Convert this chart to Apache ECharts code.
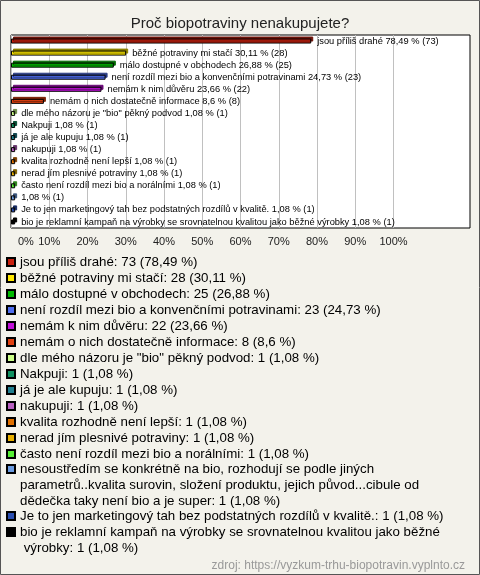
<!DOCTYPE html>
<html>
<head>
<meta charset="utf-8">
<script src="https://cdn.jsdelivr.net/npm/echarts@6/dist/echarts.min.js"></script>
<style>html,body{margin:0;padding:0;background:#f3f2eb}#chart{width:480px;height:575px}</style>
</head>
<body>
<div id="chart"></div>
<script>
const categories = [
  'jsou příliš drahé',
  'běžné potraviny mi stačí',
  'málo dostupné v obchodech',
  'není rozdíl mezi bio a konvenčními potravinami',
  'nemám k nim důvěru',
  'nemám o nich dostatečně informace',
  'dle mého názoru je "bio" pěkný podvod',
  'Nakpuji',
  'já je ale kupuju',
  'nakupuji',
  'kvalita rozhodně není lepší',
  'nerad jím plesnivé potraviny',
  'často není rozdíl mezi bio a norálními',
  'nesoustředím se konkrétně na bio, rozhodují se podle jiných parametrů..kvalita surovin, složení produktu, jejich původ...cibule od dědečka taky není bio a je super',
  'Je to jen marketingový tah bez podstatných rozdílů v kvalitě.',
  'bio je reklamní kampaň na výrobky se srovnatelnou kvalitou jako běžné výrobky'
];
// labels shown next to the bars inside the plot (the long one is omitted there)
const barLabels = [
  'jsou příliš drahé',
  'běžné potraviny mi stačí',
  'málo dostupné v obchodech',
  'není rozdíl mezi bio a konvenčními potravinami',
  'nemám k nim důvěru',
  'nemám o nich dostatečně informace',
  'dle mého názoru je "bio" pěkný podvod',
  'Nakpuji',
  'já je ale kupuju',
  'nakupuji',
  'kvalita rozhodně není lepší',
  'nerad jím plesnivé potraviny',
  'často není rozdíl mezi bio a norálními',
  '',
  'Je to jen marketingový tah bez podstatných rozdílů v kvalitě.',
  'bio je reklamní kampaň na výrobky se srovnatelnou kvalitou jako běžné výrobky'
];
const counts = [73, 28, 25, 23, 22, 8, 1, 1, 1, 1, 1, 1, 1, 1, 1, 1];
const percents = [78.49, 30.11, 26.88, 24.73, 23.66, 8.6, 1.08, 1.08, 1.08, 1.08, 1.08, 1.08, 1.08, 1.08, 1.08, 1.08];
const tickValues = [0, 10, 20, 30, 40, 50, 60, 70, 80, 90, 100];

const palette = ['#c8200e', '#ffe800', '#00bb00', '#4f6ef0', '#c010d8', '#e04010', '#ccff88', '#109060',
  '#207f90', '#b860c0', '#e07000', '#e8b000', '#55ee33', '#6b9be0', '#2a4eb0', '#000000'];

function darker(hex) {
  const n = parseInt(hex.slice(1), 16);
  const r = Math.round(((n >> 16) & 255) * 0.55), g = Math.round(((n >> 8) & 255) * 0.55), b = Math.round((n & 255) * 0.55);
  return 'rgb(' + r + ',' + g + ',' + b + ')';
}
function fmtPct(p) { return String(p).replace('.', ','); }

const series = categories.map(function (name, i) {
  const data = categories.map(function (_, j) { return j === i ? percents[i] : '-'; });
  return {
    type: 'bar',
    name: name,
    stack: 'all',
    barWidth: 5,
    data: data,
    itemStyle: {
      color: palette[i],
      borderColor: '#000',
      borderWidth: 1,
      shadowColor: darker(palette[i]),
      shadowOffsetX: 2,
      shadowOffsetY: -2,
      shadowBlur: 0
    },
    label: {
      show: true,
      position: 'right',
      distance: 6,
      fontSize: 9.3,
      fontFamily: 'Liberation Sans',
      color: '#000',
      formatter: function () {
        return (barLabels[i] ? barLabels[i] + ' ' : '') + fmtPct(percents[i]) + ' % (' + counts[i] + ')';
      }
    }
  };
});

const gridColors = [];
for (let k = 0; k <= 12; k++) gridColors.push(k <= 10 ? '#c0c0c0' : 'rgba(0,0,0,0)');

const legendText = {
  fontSize: 13.3, color: '#000', fontFamily: 'Liberation Sans', lineHeight: 16,
  width: 462, overflow: 'break'
};
// leadingBlank: blank lines put before a wrapped entry so that its swatch sits on the first line
function makeLegend(items, top, leadingBlank) {
  return {
    orient: 'vertical',
    left: 6,
    top: top,
    padding: 0,
    itemGap: 0,
    itemWidth: 8,
    itemHeight: 8,
    icon: 'rect',
    selectedMode: false,
    data: items,
    textStyle: legendText,
    formatter: function (name) {
      const i = categories.indexOf(name);
      return '\n'.repeat(leadingBlank) + name + ': ' + counts[i] + ' (' + fmtPct(percents[i]) + ' %)';
    }
  };
}

const chart = echarts.init(document.getElementById('chart'), null, {renderer: 'canvas'});
chart.setOption({
  backgroundColor: '#f3f2eb',
  animation: false,
  title: [{
    text: 'Proč biopotraviny nenakupujete?',
    left: 'center',
    top: 11,
    textStyle: {fontSize: 15, fontWeight: 'normal', color: '#222', fontFamily: 'Liberation Sans'}
  }, {
    text: 'zdroj: https://vyzkum-trhu-biopotravin.vyplnto.cz',
    right: 10,
    top: 555,
    textStyle: {fontSize: 12, fontWeight: 'normal', color: '#999', fontFamily: 'Liberation Sans'}
  }],
  graphic: [{
    type: 'rect',
    shape: {x: 0.5, y: 0.5, width: 479, height: 574},
    style: {fill: 'none', stroke: '#555', lineWidth: 1},
    silent: true
  }],
  grid: {
    left: 11, right: 10, top: 35, bottom: 347,
    show: true, backgroundColor: '#fff', borderColor: '#000', borderWidth: 1,
    containLabel: false
  },
  xAxis: {
    type: 'value',
    min: 0, max: 120, interval: 10,
    axisLine: {show: false},
    axisTick: {show: false},
    splitLine: {show: true, lineStyle: {color: gridColors, width: 1}},
    axisLabel: {
      margin: 8,
      fontSize: 11,
      color: '#222',
      fontFamily: 'Liberation Sans',
      alignMinLabel: 'left',
      formatter: function (v) {
        if (tickValues.indexOf(v) < 0) return '';
        return v === 0 ? '{z|' + v + '%}' : v + '%';
      },
      rich: {z: {padding: [0, 0, 0, 7], fontSize: 11, color: '#222', fontFamily: 'Liberation Sans'}}
    }
  },
  yAxis: {
    type: 'category',
    inverse: true,
    data: categories,
    axisLine: {show: false},
    axisTick: {show: false},
    axisLabel: {show: false}
  },
  legend: [
    makeLegend(categories.slice(0, 13), 254, 0),
    makeLegend([categories[13]], 429, 2),
    makeLegend([categories[14]], 508, 0),
    makeLegend([categories[15]], 508, 1)
  ],
  series: series
});
</script>
</body>
</html>
